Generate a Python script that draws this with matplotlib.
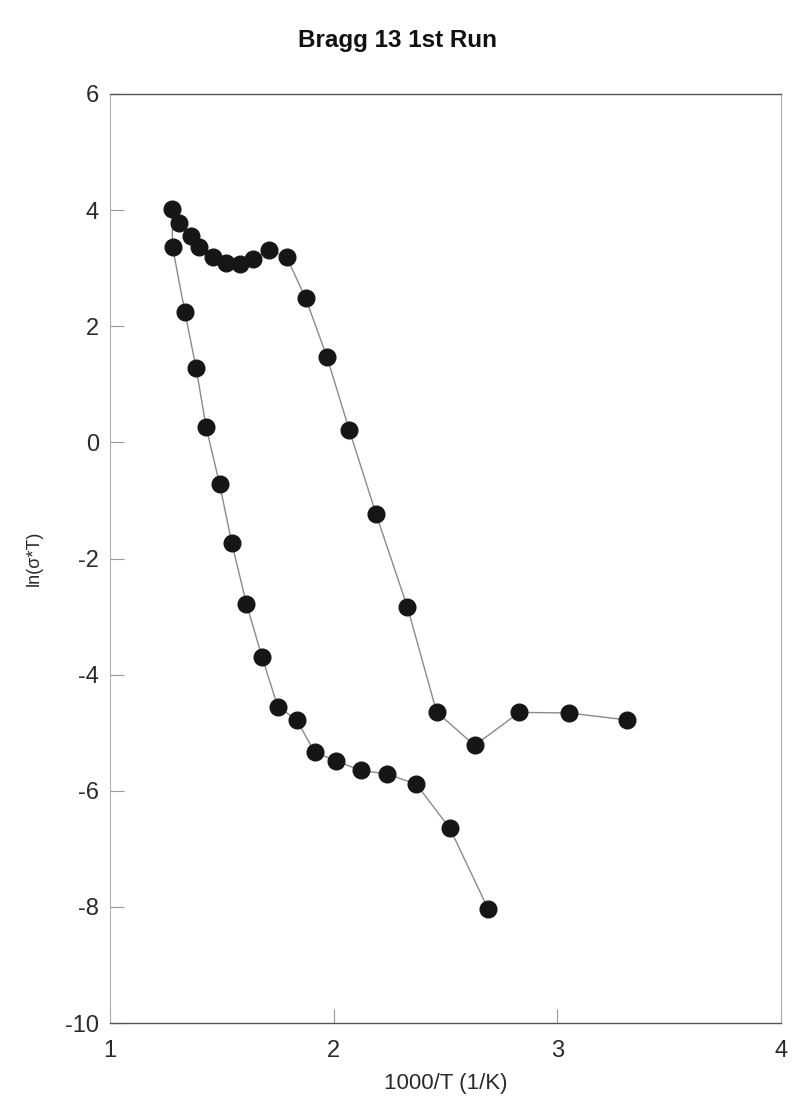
import matplotlib
matplotlib.use("Agg")
import matplotlib.pyplot as plt

plt.rcParams['font.family'] = ['Liberation Sans', 'DejaVu Sans']

# Data (single continuous run, drawn in order)
x_vals = [3.31, 3.05, 2.83, 2.63, 2.46, 2.33, 2.19, 2.07, 1.97, 1.875,
          1.79, 1.71, 1.64, 1.58, 1.52, 1.46, 1.40, 1.36, 1.31, 1.277,
          1.28, 1.335, 1.385, 1.43, 1.49, 1.545, 1.61, 1.68, 1.75, 1.835,
          1.915, 2.01, 2.12, 2.24, 2.37, 2.52, 2.69]
y_vals = [-4.78, -4.66, -4.65, -5.22, -4.64, -2.84, -1.24, 0.21, 1.47, 2.48,
          3.19, 3.31, 3.16, 3.07, 3.09, 3.19, 3.36, 3.55, 3.78, 4.02,
          3.36, 2.24, 1.28, 0.26, -0.72, -1.74, -2.78, -3.70, -4.55, -4.78,
          -5.34, -5.48, -5.65, -5.71, -5.89, -6.65, -8.03]

x_ticks = [1, 2, 3, 4]
y_ticks = [6, 4, 2, 0, -2, -4, -6, -8, -10]

fig = plt.figure(figsize=(7.94, 11.16), dpi=100)
ax = fig.add_axes([110/794, 1 - 1023/1116, (781 - 110)/794, (1023 - 94)/1116])

ax.plot(x_vals, y_vals, color='#8a8a8a', linewidth=1.0, zorder=1)
ax.plot(x_vals, y_vals, linestyle='none', marker='o', markersize=12,
        markerfacecolor='#161616', markeredgecolor='#161616', zorder=2)

ax.set_xlim(1, 4)
ax.set_ylim(-10, 6)
ax.set_xticks(x_ticks)
ax.set_yticks(y_ticks)
ax.set_xticklabels([str(t) for t in x_ticks])
ax.set_yticklabels([str(t) for t in y_ticks])
ax.tick_params(direction='in', length=10, width=0.8, color='#999999',
               labelsize=17, labelcolor='#2a2a2a', pad=8)
ax.tick_params(axis='x', pad=12)

for side in ['left', 'right']:
    ax.spines[side].set_color('#b0b0b0')
    ax.spines[side].set_linewidth(0.8)
for side in ['top', 'bottom']:
    ax.spines[side].set_color('#555555')
    ax.spines[side].set_linewidth(1.0)

ax.set_xlabel('1000/T (1/K)', fontsize=16, color='#2a2a2a', labelpad=8)
ax.set_ylabel('ln(σ*T)', fontsize=13, color='#2a2a2a', labelpad=16)

fig.text(0.5, 1 - 40/1116, 'Bragg 13 1st Run', ha='center', va='center',
         fontsize=17.5, fontweight='bold', color='#111111')

fig.savefig('out.png', dpi=100)
